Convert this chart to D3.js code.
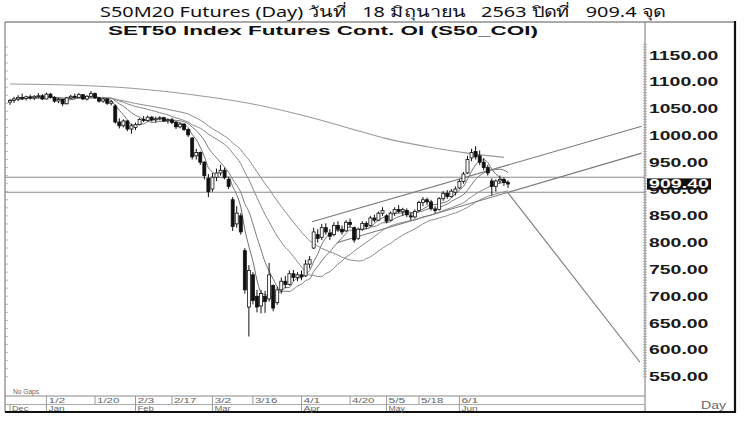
<!DOCTYPE html>
<html><head><meta charset="utf-8">
<script src="https://cdn.jsdelivr.net/npm/d3@7"></script>
<style>body{margin:0;background:#fff}svg{display:block}</style>
</head><body>
<svg id="c" width="750" height="422"></svg>
<script>
// ---------- DATA ----------
const titleText = "S50M20 Futures (Day) วันที่   18 มิถุนายน   2563 ปิดที่   909.4 จุด";
const subTitle = "SET50 Index Futures Cont. OI (S50_COI)";
// trading days shown (categories)
const tradingDays = [
 ["2019-12",[18,19,20,23,24,25,26,27,30]],
 ["2020-01",[2,3,6,7,8,9,10,13,14,15,16,17,20,21,22,23,24,27,28,29,30,31]],
 ["2020-02",[3,4,5,6,7,11,12,13,14,17,18,19,20,21,24,25,26,27,28]],
 ["2020-03",[2,3,4,5,6,9,10,11,12,13,16,17,18,19,20,23,24,25,26,27,30,31]],
 ["2020-04",[1,2,3,7,8,9,10,13,14,15,16,17,20,21,22,23,24,27,28,29,30]],
 ["2020-05",[5,7,8,11,12,13,14,15,18,19,20,21,22,25,26,27,28,29]],
 ["2020-06",[1,2,4,5,8,9,10,11,12,15,16,17,18]]
];
const opens = [1062,1065,1068,1071,1069,1072,1070,1073,1074,1068,1077,1071,1064,1067,1059,1070,1073,1071,1076,1068,1073,1078,1070,1064,1068,1060,1055,1025,1018,1027,1012,1015,1020,1030,1028,1034,1029,1031,1033,1027,1029,1024,1016,1021,1011,995,962,968,950,920,900,922,930,935,918,880,835,850,785,680,740,700,682,700,695,720,688,712,728,722,742,735,740,738,760,790,815,810,828,818,815,832,825,822,838,828,808,825,836,832,846,842,855,850,842,855,862,858,860,850,848,860,875,880,876,862,862,882,892,886,894,902,914,930,958,970,962,950,940,915,905,915,918,912];
const highs = [1068,1072,1075,1078,1074,1076,1075,1079,1077,1080,1079,1073,1070,1068,1072,1076,1078,1079,1077,1075,1083,1080,1072,1070,1069,1066,1058,1032,1030,1028,1022,1024,1032,1036,1037,1036,1035,1036,1035,1032,1033,1026,1024,1023,1013,997,975,970,952,928,930,938,945,940,922,885,868,855,790,758,745,712,712,710,762,722,718,735,738,748,749,745,748,768,775,828,825,835,836,825,838,840,832,842,845,830,828,840,840,850,852,858,866,853,858,866,870,865,864,856,862,878,885,884,880,868,885,896,898,900,905,918,932,962,975,980,972,958,945,920,918,925,922,916];
const lows = [1057,1061,1064,1066,1065,1067,1066,1069,1066,1067,1069,1061,1060,1055,1058,1068,1069,1070,1066,1065,1071,1068,1061,1061,1057,1056,1022,1013,1015,1008,1003,1010,1019,1025,1026,1026,1024,1028,1025,1022,1021,1012,1013,1008,997,955,955,945,918,885,895,915,925,918,900,822,828,815,705,625,685,670,668,669,690,672,684,705,715,720,728,728,730,736,752,788,800,805,815,805,812,820,815,820,828,800,805,822,826,830,838,840,850,836,840,850,855,850,848,842,845,858,868,870,860,855,860,878,882,884,888,900,910,928,952,955,945,935,925,888,895,910,906,902];
const closes = [1065,1068,1071,1069,1072,1070,1073,1074,1068,1077,1071,1064,1067,1059,1070,1073,1071,1076,1068,1073,1078,1070,1064,1068,1060,1063,1025,1018,1027,1012,1018,1020,1030,1028,1034,1029,1031,1033,1027,1029,1024,1016,1021,1011,1001,960,968,950,925,895,922,930,935,922,905,830,855,820,712,748,692,680,705,690,740,678,712,728,722,742,735,740,736,760,768,820,808,828,820,812,832,825,820,838,834,805,825,836,830,846,842,855,860,840,855,862,858,862,852,848,858,875,880,876,864,860,882,892,886,896,900,914,928,955,968,960,950,940,930,905,915,918,912,909.4];
// long moving average: [bar index, value]
const ma200 = [[0,1096],[15,1094],[30,1088],[45,1076],[59,1060],[72,1038],[84,1013],[93,994],[103,979],[113,967],[122,959]];
const maPeriods = [5,10,20,30];
const hLevels = [922, 894];
// trend lines: [[barIndex,value],[barIndex,value]]
const trendLines = [
  [[74.6,839],[156,1017]],
  [[80.7,800],[156,967]],
  [[123,893],[155.6,577]]
];
const yTicks = [1150,1100,1050,1000,950,900,850,800,750,700,650,600,550];
const lastPrice = 909.40;
const dayLabels = [["2020-01",2,"1/2"],["2020-01",20,"1/20"],["2020-02",3,"2/3"],["2020-02",17,"2/17"],["2020-03",2,"3/2"],["2020-03",16,"3/16"],["2020-04",1,"4/1"],["2020-04",20,"4/20"],["2020-05",5,"5/5"],["2020-05",18,"5/18"],["2020-06",1,"6/1"]];
const monthLabels = [["2019-12",18,"Dec"],["2020-01",2,"Jan"],["2020-02",3,"Feb"],["2020-03",2,"Mar"],["2020-04",1,"Apr"],["2020-05",5,"May"],["2020-06",1,"Jun"]];

// ---------- BUILD ----------
const dates = [];
tradingDays.forEach(([m,ds]) => ds.forEach(d => dates.push(m+"-"+String(d).padStart(2,"0"))));
const idxOf = (m,d) => dates.indexOf(m+"-"+String(d).padStart(2,"0"));

const svg = d3.select("#c");
const L = 5, R = 645, T = 22, B = 396, RA = 735;
const x = d3.scaleLinear().domain([0, dates.length-1]).range([10, 508]);
const y = d3.scaleLinear().domain([550,1150]).range([376.7, 55]);

svg.append("defs").append("clipPath").attr("id","clip")
  .append("rect").attr("x",L).attr("y",T).attr("width",R-L).attr("height",B-T);

// title
svg.append("text").attr("x",100).attr("y",16.5)
  .attr("font-family","'Noto Sans','Open Sans',sans-serif").attr("font-size",14.5)
  .attr("fill","#111").style("white-space","pre")
  .attr("textLength",565).attr("lengthAdjust","spacingAndGlyphs").text(titleText);

// frame
const frame = svg.append("g");
frame.append("line").attr("x1",L).attr("x2",RA).attr("y1",T).attr("y2",T).attr("stroke","#555").attr("stroke-width",1);
frame.append("line").attr("x1",L).attr("x2",L).attr("y1",T).attr("y2",412).attr("stroke","#666").attr("stroke-width",1);
frame.append("line").attr("x1",R).attr("x2",R).attr("y1",T).attr("y2",412).attr("stroke","#777").attr("stroke-width",1);
frame.append("line").attr("x1",RA).attr("x2",RA).attr("y1",T-1).attr("y2",413).attr("stroke","#111").attr("stroke-width",2.2);
frame.append("line").attr("x1",L).attr("x2",RA+1).attr("y1",412).attr("y2",412).attr("stroke","#111").attr("stroke-width",2.2);
frame.append("line").attr("x1",L).attr("x2",R).attr("y1",B).attr("y2",B).attr("stroke","#888");
frame.append("line").attr("x1",L).attr("x2",R).attr("y1",404.5).attr("y2",404.5).attr("stroke","#aaa");

// subtitle
svg.append("text").attr("x",108).attr("y",35)
  .attr("font-family","'Liberation Sans',Arial,sans-serif").attr("font-weight","bold").attr("font-size",12.5)
  .attr("fill","#111").attr("textLength",430).attr("lengthAdjust","spacingAndGlyphs").text(subTitle);

// minor ticks on edges
const minor = d3.range(550, 1171, 5);
svg.append("g").selectAll("line").data(minor).join("line")
  .attr("x1",R-2).attr("x2",R+2).attr("y1",d=>y(d)).attr("y2",d=>y(d))
  .attr("stroke","#999").attr("stroke-width",0.7);
svg.append("g").selectAll("line").data(d3.range(550,1171,15)).join("line")
  .attr("x1",L).attr("x2",L+3).attr("y1",d=>y(d)).attr("y2",d=>y(d))
  .attr("stroke","#999").attr("stroke-width",0.7);

const plot = svg.append("g").attr("clip-path","url(#clip)");

// horizontal levels
plot.selectAll(".hl").data(hLevels).join("line").attr("class","hl")
  .attr("x1",L).attr("x2",R).attr("y1",d=>y(d)).attr("y2",d=>y(d))
  .attr("stroke","#8a8a8a").attr("stroke-width",1);

// long MA
const lineGen = d3.line().x(d=>x(d[0])).y(d=>y(d[1]));
plot.append("path").datum(ma200).attr("d",lineGen.curve(d3.curveMonotoneX))
  .attr("fill","none").attr("stroke","#9a9a9a").attr("stroke-width",1.1);

// moving averages
const sma = n => closes.map((c,i)=>[i, d3.mean(closes.slice(Math.max(0,i-n+1), i+1))]);
const maColors = ["#6f6f6f","#7a7a7a","#888","#8c8c8c"];
maPeriods.forEach((n,k)=>{
  plot.append("path").datum(sma(n)).attr("d",d3.line().x(d=>x(d[0])).y(d=>y(d[1])).curve(d3.curveMonotoneX))
    .attr("fill","none").attr("stroke",maColors[k]).attr("stroke-width",1);
});

// trend lines
plot.selectAll(".tl").data(trendLines).join("line").attr("class","tl")
  .attr("x1",d=>x(d[0][0])).attr("y1",d=>y(d[0][1]))
  .attr("x2",d=>x(d[1][0])).attr("y2",d=>y(d[1][1]))
  .attr("stroke","#7a7a7a").attr("stroke-width",1.1);

// candles
const bars = plot.append("g").selectAll("g").data(closes.map((c,i)=>i)).join("g");
bars.append("line").attr("x1",i=>x(i)).attr("x2",i=>x(i))
  .attr("y1",i=>y(highs[i])).attr("y2",i=>y(lows[i])).attr("stroke","#111").attr("stroke-width",1);
bars.append("rect").attr("x",i=>x(i)-1.5).attr("width",3)
  .attr("y",i=>y(Math.max(opens[i],closes[i])))
  .attr("height",i=>Math.max(1,Math.abs(y(opens[i])-y(closes[i]))))
  .attr("fill",i=>closes[i]>=opens[i]?"#fff":"#111").attr("stroke","#111").attr("stroke-width",0.8);

// y labels
svg.append("g").selectAll("text").data(yTicks).join("text")
  .attr("x",649).attr("y",d=>y(d)+4.5)
  .attr("font-family","'Liberation Sans',Arial,sans-serif").attr("font-weight","bold").attr("font-size",12)
  .attr("fill","#1a1a1a")
  .attr("textLength",d=>d.toFixed(2).length*9.9).attr("lengthAdjust","spacingAndGlyphs")
  .text(d=>d.toFixed(2));
// last price box
svg.append("rect").attr("x",647).attr("y",y(lastPrice)-5.6).attr("width",64).attr("height",11.2).attr("fill","#111");
svg.append("text").attr("x",649).attr("y",y(lastPrice)+4.4)
  .attr("font-family","'Liberation Sans',Arial,sans-serif").attr("font-weight","bold").attr("font-size",12)
  .attr("fill","#fff").attr("textLength",60).attr("lengthAdjust","spacingAndGlyphs").text(lastPrice.toFixed(2));

// x axis labels
const xa = svg.append("g").attr("font-family","'Liberation Sans',Arial,sans-serif").attr("fill","#666");
dayLabels.forEach(([m,d,t])=>{
  const px = x(idxOf(m,d));
  xa.append("line").attr("x1",px).attr("x2",px).attr("y1",B).attr("y2",404.5).attr("stroke","#999");
  xa.append("text").attr("x",px+2).attr("y",402.6).attr("font-size",6.6)
    .attr("textLength",t.length*5.6).attr("lengthAdjust","spacingAndGlyphs").text(t);
});
monthLabels.forEach(([m,d,t],k)=>{
  const px = k===0 ? 10 : x(idxOf(m,d));
  xa.append("line").attr("x1",px).attr("x2",px).attr("y1",404.5).attr("y2",411).attr("stroke","#999");
  xa.append("text").attr("x",px+2).attr("y",410.6).attr("font-size",6.6)
    .attr("textLength",t.length*5.4).attr("lengthAdjust","spacingAndGlyphs").text(t);
});
svg.append("text").attr("x",13).attr("y",393.5).attr("font-family","'Liberation Sans',Arial,sans-serif")
  .attr("font-size",6.6).attr("fill","#666").text("No Gaps");
svg.append("text").attr("x",701).attr("y",409).attr("font-family","'Liberation Sans',Arial,sans-serif")
  .attr("font-size",10).attr("fill","#666").attr("textLength",25).attr("lengthAdjust","spacingAndGlyphs").text("Day");
</script>
</body></html>
